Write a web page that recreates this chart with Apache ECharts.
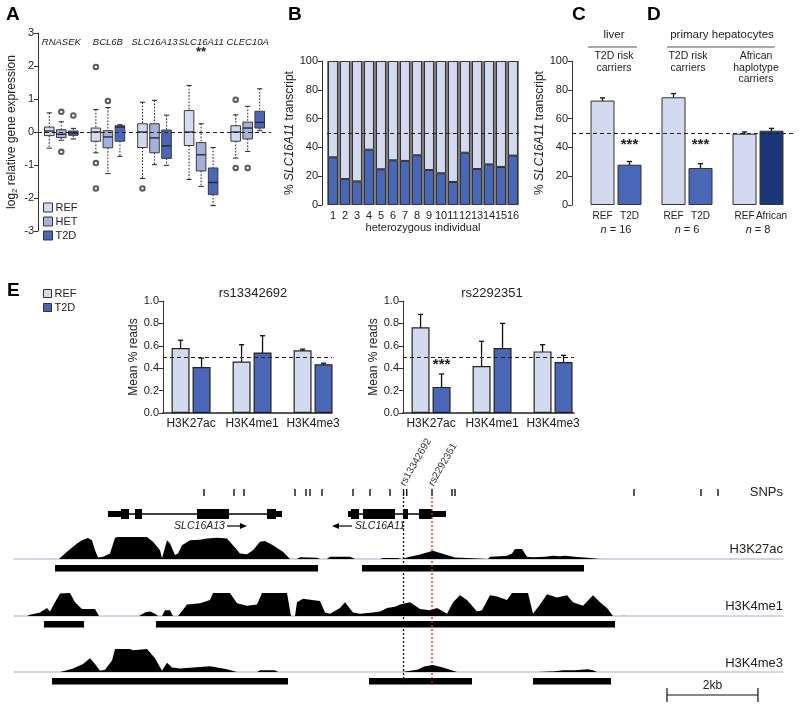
<!DOCTYPE html>
<html><head><meta charset="utf-8">
<script src="https://cdn.jsdelivr.net/npm/echarts@6/dist/echarts.min.js"></script>
<style>html,body{margin:0;padding:0;background:#fff}#c{width:800px;height:711px}</style>
</head><body><div id="c"></div>
<script>
// ================= DATA =================
// Panel A: boxplots [min, q1, median, q3, max] per gene
const genesA = ['RNASEK','BCL6B','SLC16A13','SLC16A11','CLEC10A'];
const boxREF = [[-0.49,-0.11,0.03,0.15,0.58],[-0.63,-0.28,0.0,0.12,0.68],[-1.41,-0.47,0.0,0.25,0.9],[-1.44,-0.41,0.0,0.65,1.41],[-0.79,-0.28,0.0,0.19,0.52]];
const boxHET = [[-0.25,-0.17,-0.07,0.07,0.31],[-1.26,-0.48,-0.15,0.04,0.74],[-0.99,-0.63,-0.18,0.25,0.96],[-1.65,-1.18,-0.69,-0.32,0.25],[-0.59,-0.21,0.12,0.3,0.78]];
const boxT2D = [[-0.21,-0.1,-0.03,0.03,0.11],[-0.74,-0.28,0.15,0.19,0.22],[-1.01,-0.8,-0.42,0.06,0.51],[-2.23,-1.9,-1.53,-1.09,-0.47],[0.04,0.12,0.29,0.63,1.31]];
// outliers [geneIndex, value]
const outREF = [[1,1.97],[1,-0.94],[1,-1.71],[2,-1.71],[4,0.98],[4,-1.09]];
const outHET = [[0,0.61],[0,-0.6],[1,0.94],[4,-1.09]];
const outT2D = [[0,0.5]];
const sigA = ['', '', '', '**', ''];

// Panel B: % transcript per heterozygous individual
const bIndividuals = ['1','2','3','4','5','6','7','8','9','10','11','12','13','14','15','16'];
const bT2D = [33.1,18,16.4,38.4,24.8,31,30.6,34.5,24.3,22,16,36.3,25,28.2,26.4,34.3];
const bREF = [66.9,82,83.6,61.6,75.2,69,69.4,65.5,75.7,78,84,63.7,75,71.8,73.6,65.7];

// Panels C/D
const cdN = [16, 6, 8];
const cdRefMean = [72.5, 74.8, 49.5];
const cdRefErr = [1.9, 2.6, 1.2];
const cdAltNames = ['T2D', 'T2D', 'African'];
const cdAltMean = [28, 25.7, 51.6];
const cdAltErr = [2.2, 3.0, 1.6];
const cdSig = ['***', '***', ''];

// Panel E bar charts
const eCats = ['H3K27ac','H3K4me1','H3K4me3'];
const e1RefMean = [0.58, 0.46, 0.56], e1RefErr = [0.07, 0.15, 0.01];
const e1T2dMean = [0.41, 0.54, 0.435], e1T2dErr = [0.08, 0.15, 0.01];
const e2RefMean = [0.765, 0.42, 0.55], e2RefErr = [0.115, 0.22, 0.06];
const e2T2dMean = [0.233, 0.58, 0.455], e2T2dErr = [0.115, 0.22, 0.06];
const e2Sig = ['***', '', ''];

// Panel E genome browser (positions in bp)
const regionLength = 16918;
const snpPos = [4180,4840,5060,6182,6424,6512,6776,7458,7832,8272,8570,8640,9196,9636,9702,13640,15114,15488];
const rsLabels = [['rs13342692', 8570, 'black'], ['rs2292351', 9196, 'red']];
const slc16a13Utrs = [[2068,2354],[5764,5896]];
const slc16a13Exons = [[2354,2530],[2662,2816],[4026,4730],[5566,5764]];
const slc16a11Utrs = [[7348,7414],[9196,9504]];
const slc16a11Exons = [[7414,7590],[7678,8382],[8558,8668],[8910,9196]];
const geneLabels = [['SLC16A13', 4640, '+'], ['SLC16A11', 7502, '-']];
const peaksK27ac = [[902,6688],[7656,12540]];
const peaksK4me1 = [[660,1540],[3124,13222]];
const peaksK4me3 = [[836,6028],[7810,10076],[11418,13134]];
const scaleBarStart = 14366, scaleBarLength = 2000, scaleBarLabel = '2kb';
const sigK27ac = [[990,0],[1166,0.33],[1386,0.7],[1496,0.85],[1628,0.95],[1716,0.85],[1782,0.4],[1848,0.07],[1958,0.1],[2112,0.25],[2222,0.97],[2288,1],[2926,1],[3058,0.78],[3212,0.4],[3256,0.03],[3366,0.85],[3432,0.7],[3542,0.18],[3608,0.25],[3696,0.63],[3872,0.85],[4092,0.88],[4246,0.93],[4466,0.97],[4686,0.93],[4818,0.63],[4972,0.25],[5126,0.22],[5258,0.4],[5412,0.78],[5522,0.82],[5698,0.63],[5918,0.33],[6072,0],
[6226,0],[6292,0.08],[6666,0.06],[6732,0],[6886,0],[6952,0.1],[7392,0.1],[7502,0],[8052,0],[8118,0.05],[8448,0.05],[8514,0],[8602,0.05],[8712,0.1],[8932,0.2],[9218,0.37],[9482,0.2],[9702,0.07],[10098,0.03],[10142,0],[10428,0],[10472,0.1],[10692,0.12],[10846,0.15],[10956,0.25],[11022,0.45],[11066,0.5],[11176,0.45],[11286,0.1],[11418,0.08],[11682,0.1],[11858,0.15],[12012,0.12],[12122,0.15],[12342,0.1],[12672,0.05],[12892,0]];
const sigK4me1 = [[286,0],[352,0.05],[572,0.15],[726,0.35],[792,0.2],[902,0.6],[1012,0.98],[1056,1],[1232,1],[1342,0.6],[1496,0.3],[1628,0.3],[1782,0.3],[1870,0],
[2750,0],[2882,0.15],[2992,0.2],[3102,0.1],[3168,0],[3256,0],[3322,0.25],[3432,0.25],[3498,0],
[3608,0],[3652,0.05],[3806,0.5],[4092,0.55],[4312,0.7],[4378,1],[4752,1],[4906,0.55],[5126,0.45],[5346,0.5],[5456,1],[6006,1],[6094,0],
[6182,0],[6226,0.6],[6358,0.75],[6556,0.7],[6732,0.65],[6842,0.15],[6952,0.1],[7172,0.35],[7282,0.6],[7458,0.15],[7612,0.1],[7898,0.15],[8052,0.2],[8206,0.35],[8382,0.4],[8492,0.5],[8712,0.6],[8932,0.3],[9152,0.25],[9306,0.35],[9526,0.1],[9658,0.6],[9812,0.9],[9966,0.7],[10186,0.2],[10296,0.25],[10472,0.9],[10626,0.85],[10846,0.7],[10956,1],[11308,1],[11418,0.1],[11572,0.5],[11726,0.95],[11946,0.8],[12166,0.9],[12298,0.6],[12518,0.45],[12738,0.9],[12892,0.6],[13046,0.35],[13178,0],
[13376,0],[13398,0.03],[13486,0.03],[13508,0]];
const sigK4me3 = [[1012,0],[1122,0.05],[1298,0.15],[1518,0.35],[1672,0.6],[1782,0.35],[1892,0.05],[2002,0.1],[2156,0.5],[2222,1],[2552,1],[2618,0.95],[2926,1],[3102,0.6],[3256,0.05],[3366,0.4],[3476,0.2],[3652,0.15],[3938,0.2],[4312,0.25],[4686,0.12],[4906,0],
[5346,0],[5412,0.08],[5742,0.08],[5808,0],[8184,0],[8228,0.05],[8272,0],
[8536,0],[8558,0.03],[8866,0.1],[9042,0.25],[9218,0.3],[9438,0.2],[9746,0],
[11528,0],[11572,0.03],[11902,0.03],[12078,0.08],[12342,0.08],[12628,0.12],[12738,0.08],[12826,0]];

// ================= STYLE =================
const FONT = "'Liberation Sans', Arial, Helvetica, sans-serif";
const C_REF = '#d3d9ee', C_HET = '#a3b1dc', C_T2D = '#4a66b6', C_AFR = '#1d3675', C_EDGE = '#333', TXT = '#222';
const chart = echarts.init(document.getElementById('c'));

function gridBox(left, top, width, height, extra) {
  return Object.assign({left, top, width, height, containLabel:false, outerBoundsMode:'none'}, extra || {});
}
function valY(min, max, interval, name, nameGap, fmt, extra) {
  return Object.assign({
    type:'value', min, max, interval,
    axisLine:{show:true, onZero:false, lineStyle:{color:C_EDGE, width:1}},
    axisTick:{show:true, length:4, lineStyle:{color:C_EDGE}},
    axisLabel:{fontSize:11, color:TXT, fontFamily:FONT, margin:4, formatter:fmt},
    splitLine:{show:false},
    name, nameLocation:'middle', nameGap, nameRotate:90,
    nameTextStyle:{fontSize:12, color:TXT, fontFamily:FONT,
      rich:{i:{fontStyle:'italic', fontSize:12, color:TXT, fontFamily:FONT}, n:{fontSize:12, color:TXT, fontFamily:FONT}, s:{fontSize:8, color:TXT, fontFamily:FONT, verticalAlign:'bottom', padding:[6,0,0,0]}}}
  }, extra || {});
}
const hiddenX = (min, max) => ({type:'value', min, max, show:false});
const hiddenY = (min, max, inv) => ({type:'value', min, max, show:false, inverse:!!inv});

// ---- Panel A boxes ----
const offA = [-0.258, 0, 0.258];
function boxRender(k, color) {
  return function (params, api) {
    const gi = api.value(0);
    const mn = api.value(1), q1 = api.value(2), md = api.value(3), q3 = api.value(4), mx = api.value(5);
    const unit = api.size([1, 0])[0];
    const x = api.coord([gi + offA[k], 0])[0];
    const w = unit * 0.205, cw = 2.6;
    const y = v => api.coord([gi, v])[1];
    const dash = {stroke:'#333', lineWidth:1.1, lineDash:[1.6,1.6]};
    const solid = {stroke:'#333', lineWidth:1.1};
    return {type:'group', children:[
      {type:'line', shape:{x1:x, y1:y(mx), x2:x, y2:y(q3)}, style:dash},
      {type:'line', shape:{x1:x, y1:y(q1), x2:x, y2:y(mn)}, style:dash},
      {type:'line', shape:{x1:x-cw, y1:y(mx), x2:x+cw, y2:y(mx)}, style:solid},
      {type:'line', shape:{x1:x-cw, y1:y(mn), x2:x+cw, y2:y(mn)}, style:solid},
      {type:'rect', shape:{x:x-w/2, y:y(q3), width:w, height:y(q1)-y(q3)}, style:{fill:color, stroke:'#3a3a3a', lineWidth:1}},
      {type:'line', shape:{x1:x-w/2, y1:y(md), x2:x+w/2, y2:y(md)}, style:{stroke:'#222', lineWidth:1.3}}
    ]};
  };
}
const boxSets = [boxREF, boxHET, boxT2D], outSets = [outREF, outHET, outT2D];
const boxColors = [C_REF, C_HET, C_T2D], boxNames = ['REF','HET','T2D'];
const series = [];
boxSets.forEach((set, k) => {
  const s = {
    type:'custom', name:boxNames[k], xAxisIndex:0, yAxisIndex:0, silent:true,
    itemStyle:{color:boxColors[k], borderColor:'#333', borderWidth:1},
    renderItem: boxRender(k, boxColors[k]),
    encode:{x:0, y:[1,2,3,4,5]},
    data: set.map((b, i) => [i].concat(b))
  };
  if (k === 0) s.markLine = {silent:true, symbol:'none', label:{show:false},
    lineStyle:{type:[4,3], color:'#222', width:1}, data:[{yAxis:0}]};
  series.push(s);
  series.push({type:'scatter', xAxisIndex:0, yAxisIndex:0, silent:true, symbol:'emptyCircle', symbolSize:4.5,
    itemStyle:{color:'#333', borderWidth:1.2},
    data: outSets[k].map(([g, v]) => [g + offA[k], v])});
});
series.push({type:'custom', xAxisIndex:0, yAxisIndex:0, silent:true, data: genesA.map((g, i) => [i]),
  renderItem: (p, api) => {
    const c = api.coord([api.value(0), 2.72]);
    const c2 = api.coord([api.value(0), 2.4]);
    const ch = [{type:'text', x:c[0], y:c[1], style:{text:genesA[p.dataIndex], fontSize:9.5, fontStyle:'italic', fontFamily:FONT, fill:TXT, align:'center', verticalAlign:'middle'}}];
    if (sigA[p.dataIndex]) ch.push({type:'text', x:c2[0], y:c2[1], style:{text:sigA[p.dataIndex], fontSize:13, fontWeight:'bold', fontFamily:FONT, fill:TXT, align:'center', verticalAlign:'middle'}});
    return {type:'group', children:ch};
  }});

// ---- Panel B ----
series.push({type:'bar', name:'T2D', xAxisIndex:1, yAxisIndex:1, stack:'b', data:bT2D, barCategoryGap:'17%',
  itemStyle:{color:C_T2D, borderColor:'#333', borderWidth:1}, silent:true});
series.push({type:'bar', name:'REF', xAxisIndex:1, yAxisIndex:1, stack:'b', data:bREF, barCategoryGap:'17%',
  itemStyle:{color:C_REF, borderColor:'#333', borderWidth:1}, silent:true,
  markLine:{silent:true, symbol:'none', label:{show:false}, lineStyle:{type:[4,3], color:'#222', width:1}, data:[{yAxis:50}]}});

// error bar renderer shared
function errRender(p, api) {
  const x = api.value(0), m = api.value(1), e = api.value(2);
  const t = api.coord([x, m + e]), b = api.coord([x, m - e]);
  const hw = 2.6, st = {stroke:'#111', lineWidth:1.3};
  return {type:'group', children:[
    {type:'line', shape:{x1:t[0], y1:t[1], x2:b[0], y2:b[1]}, style:st},
    {type:'line', shape:{x1:t[0]-hw, y1:t[1], x2:t[0]+hw, y2:t[1]}, style:st},
    {type:'line', shape:{x1:b[0]-hw, y1:b[1], x2:b[0]+hw, y2:b[1]}, style:st}
  ]};
}

// ---- Panels C/D ----
const cdOff = 0.19;
series.push({type:'bar', name:'REF', xAxisIndex:2, yAxisIndex:2, barWidth:24, barGap:'-100%', silent:true,
  itemStyle:{color:C_REF, borderColor:'#333', borderWidth:1},
  label:{show:true, position:'bottom', distance:6, formatter:'REF', fontSize:10, color:TXT, fontFamily:FONT},
  data: cdRefMean.map((v, i) => [i - cdOff, v]),
  markLine:{silent:true, symbol:'none', label:{show:false}, lineStyle:{type:[4,3], color:'#222', width:1}, data:[{yAxis:50}]}});
series.push({type:'bar', name:'T2D', xAxisIndex:2, yAxisIndex:2, barWidth:24, barGap:'-100%', silent:true,
  itemStyle:{color:C_T2D, borderColor:'#333', borderWidth:1},
  label:{show:true, position:'bottom', distance:6, fontSize:10, color:TXT, fontFamily:FONT},
  data: cdAltMean.map((v, i) => ({value:[i + cdOff, v], itemStyle:{color: cdAltNames[i] === 'African' ? C_AFR : C_T2D},
    label:{formatter: cdAltNames[i]}}))});
series.push({type:'custom', xAxisIndex:2, yAxisIndex:2, silent:true, renderItem:errRender,
  data: cdRefMean.map((v, i) => [i - cdOff, v, cdRefErr[i]]).concat(cdAltMean.map((v, i) => [i + cdOff, v, cdAltErr[i]]))});
series.push({type:'custom', xAxisIndex:2, yAxisIndex:2, silent:true,
  data: cdAltMean.map((v, i) => [i + cdOff, v + cdAltErr[i]]),
  renderItem: (p, api) => {
    const t = cdSig[p.dataIndex]; if (!t) return null;
    const c = api.coord([api.value(0), 0]);
    const yy = api.coord([0, 42])[1];
    return {type:'text', x:c[0], y:yy, style:{text:t, fontSize:15, fontWeight:'bold', fontFamily:FONT, fill:TXT, align:'center', verticalAlign:'middle'}};
  }});

// ---- Panel E bars ----
const eOff = 0.172;
function eSeries(ax, refM, refE, t2dM, t2dE, sig) {
  series.push({type:'bar', name:'REF', xAxisIndex:ax, yAxisIndex:ax, barWidth:18, barGap:'-100%', silent:true,
    itemStyle:{color:C_REF, borderColor:'#222', borderWidth:1.2},
    data: refM.map((v, i) => [i - eOff, v]),
    markLine:{silent:true, symbol:'none', label:{show:false}, lineStyle:{type:[4,3], color:'#222', width:1}, data:[{yAxis:0.5}]}});
  series.push({type:'bar', name:'T2D', xAxisIndex:ax, yAxisIndex:ax, barWidth:18, barGap:'-100%', silent:true,
    itemStyle:{color:C_T2D, borderColor:'#222', borderWidth:1.2},
    data: t2dM.map((v, i) => ({value:[i + eOff, v],
      label: sig && sig[i] ? {show:true, position:'top', distance:15, formatter:sig[i], fontSize:15, fontWeight:'bold', color:TXT, fontFamily:FONT} : {show:false}}))});
  series.push({type:'custom', xAxisIndex:ax, yAxisIndex:ax, silent:true, renderItem:errRender,
    data: refM.map((v, i) => [i - eOff, v, refE[i]]).concat(t2dM.map((v, i) => [i + eOff, v, t2dE[i]]))});
}
eSeries(3, e1RefMean, e1RefErr, e1T2dMean, e1T2dErr, null);
eSeries(4, e2RefMean, e2RefErr, e2T2dMean, e2T2dErr, e2Sig);

// ---- Genome browser annotations (grid 5, y axis = pixel rows from GT) ----
const GT = 440;
function gx(api, bp) { return api.coord([bp, 0])[0]; }
function gy(api, py) { return api.coord([0, py - GT])[1]; }
series.push({type:'custom', xAxisIndex:5, yAxisIndex:5, silent:true, data: snpPos.map(p => [p]),
  renderItem: (p, api) => { const x = gx(api, api.value(0));
    return {type:'line', shape:{x1:x, y1:gy(api, 489), x2:x, y2:gy(api, 496)}, style:{stroke:'#111', lineWidth:1.4}}; }});
const geneFeatures = [];
[[slc16a13Utrs, slc16a13Exons], [slc16a11Utrs, slc16a11Exons]].forEach(([u, e]) => {
  const all = u.concat(e);
  geneFeatures.push([Math.min(...all.map(a => a[0])), Math.max(...all.map(a => a[1])), 0]);
  u.forEach(a => geneFeatures.push([a[0], a[1], 1]));
  e.forEach(a => geneFeatures.push([a[0], a[1], 2]));
});
series.push({type:'custom', xAxisIndex:5, yAxisIndex:5, silent:true, data: geneFeatures,
  renderItem: (p, api) => {
    const x1 = gx(api, api.value(0)), x2 = gx(api, api.value(1)), k = api.value(2);
    const h = [1.4, 6, 10][k], yc = gy(api, 514);
    return {type:'rect', shape:{x:x1, y:yc - h/2, width:x2 - x1, height:h}, style:{fill:'#000'}};
  }});
series.push({type:'custom', xAxisIndex:5, yAxisIndex:5, silent:true, data: geneLabels.map(g => [g[1]]),
  renderItem: (p, api) => {
    const [name, , strand] = geneLabels[p.dataIndex];
    const x = gx(api, api.value(0)), y = gy(api, 526);
    const ts = {text:name, fontSize:10.5, fontStyle:'italic', fontFamily:FONT, fill:TXT, verticalAlign:'middle'};
    const ch = [];
    if (strand === '+') {
      ch.push({type:'text', x:x, y:y, style:Object.assign({align:'right'}, ts)});
      ch.push({type:'line', shape:{x1:x+2, y1:y, x2:x+20, y2:y}, style:{stroke:'#000', lineWidth:1.2}});
      ch.push({type:'polygon', shape:{points:[[x+22,y],[x+15,y-3],[x+15,y+3]]}, style:{fill:'#000'}});
    } else {
      ch.push({type:'text', x:x, y:y, style:Object.assign({align:'left'}, ts)});
      ch.push({type:'line', shape:{x1:x-3, y1:y, x2:x-21, y2:y}, style:{stroke:'#000', lineWidth:1.2}});
      ch.push({type:'polygon', shape:{points:[[x-23,y],[x-16,y-3],[x-16,y+3]]}, style:{fill:'#000'}});
    }
    return {type:'group', children:ch};
  }});
const peakRows = [[peaksK27ac, 565], [peaksK4me1, 621], [peaksK4me3, 678]];
const peakData = [];
peakRows.forEach(([arr], r) => arr.forEach(a => peakData.push([a[0], a[1], r])));
series.push({type:'custom', xAxisIndex:5, yAxisIndex:5, silent:true, data: peakData,
  renderItem: (p, api) => {
    const x1 = gx(api, api.value(0)), x2 = gx(api, api.value(1)), top = gy(api, peakRows[api.value(2)][1]);
    return {type:'rect', shape:{x:x1, y:top, width:x2 - x1, height:6.5}, style:{fill:'#000'}};
  }});
series.push({type:'custom', xAxisIndex:5, yAxisIndex:5, silent:true, data: rsLabels.map(r => [r[1]]),
  renderItem: (p, api) => {
    const [name, , col] = rsLabels[p.dataIndex];
    const x = gx(api, api.value(0));
    const stroke = col === 'red' ? '#e0251b' : '#111';
    return {type:'group', children:[
      {type:'line', shape:{x1:x, y1:gy(api, 497), x2:x, y2:gy(api, 685)}, style:{stroke, lineWidth:1.3, lineDash:[2,2]}},
      {type:'text', x:x - 1, y:gy(api, 485), rotation:Math.PI / 3,
        style:{text:name, fontSize:10, fontFamily:FONT, fill:'#333', align:'left', verticalAlign:'middle'}}
    ]};
  }});
series.push({type:'custom', xAxisIndex:5, yAxisIndex:5, silent:true, data: [[scaleBarStart, scaleBarStart + scaleBarLength]],
  renderItem: (p, api) => {
    const x1 = gx(api, api.value(0)), x2 = gx(api, api.value(1)), y = gy(api, 695);
    const st = {stroke:'#111', lineWidth:1.2};
    return {type:'group', children:[
      {type:'line', shape:{x1, y1:y, x2, y2:y}, style:st},
      {type:'line', shape:{x1, y1:y-7, x2:x1, y2:y+7}, style:st},
      {type:'line', shape:{x1:x2, y1:y-7, x2, y2:y+7}, style:st},
      {type:'text', x:(x1 + x2) / 2, y:gy(api, 686), style:{text:scaleBarLabel, fontSize:12, fontFamily:FONT, fill:TXT, align:'center', verticalAlign:'middle'}}
    ]};
  }});
[[sigK27ac, 6], [sigK4me1, 7], [sigK4me3, 8]].forEach(([d, ax]) => {
  series.push({type:'line', xAxisIndex:ax, yAxisIndex:ax, data:d, symbol:'none', silent:true,
    lineStyle:{width:0, color:'#000'}, areaStyle:{color:'#000', opacity:1}, itemStyle:{color:'#000'}});
});

// ================= AXES =================
const GL = 14, GR = 17;
const grids = [
  gridBox(38, 33, 233, 198),
  gridBox(327, 61, 192, 144, {show:true, backgroundColor:'#7d7d7d', borderWidth:0}),
  gridBox(572, 61, 221, 144),
  gridBox(163, 301, 169, 112),
  gridBox(403, 301, 171, 112),
  gridBox(GL, GT, 800 - GL - GR, 265),
  gridBox(GL, 537, 800 - GL - GR, 22),
  gridBox(GL, 593, 800 - GL - GR, 23),
  gridBox(GL, 649, 800 - GL - GR, 23)
];
const eX = (max) => ({type:'value', min:-0.46, max,
  axisLine:{show:true, onZero:false, lineStyle:{color:'#222', width:1.5}}, axisTick:{show:false}, splitLine:{show:false},
  axisLabel:{customValues:[0,1,2], formatter:v => eCats[Math.round(v)], fontSize:12, color:TXT, fontFamily:FONT, margin:5}});
const trackX = () => ({type:'value', min:0, max:regionLength, axisLine:{show:true, onZero:false, lineStyle:{color:'#c7c8db', width:1.5}},
  axisTick:{show:false}, axisLabel:{show:false}, splitLine:{show:false}});
const xAxes = [
  hiddenX(-0.5, 4.5),
  {type:'category', data:bIndividuals, axisLine:{show:false}, axisTick:{show:false},
    axisLabel:{fontSize:11, color:TXT, fontFamily:FONT, margin:5, interval:0},
    name:'heterozygous individual', nameLocation:'middle', nameGap:17, nameTextStyle:{fontSize:11, color:TXT, fontFamily:FONT}},
  {type:'value', min:-0.62, max:-0.62 + 221/71, axisLine:{show:false}, axisTick:{show:false}, splitLine:{show:false},
    axisLabel:{customValues:[0,1,2], formatter:v => '{i|n} = ' + cdN[Math.round(v)], margin:19, fontSize:11, color:TXT, fontFamily:FONT,
      rich:{i:{fontStyle:'italic', fontSize:11, color:TXT, fontFamily:FONT}}}},
  eX(-0.46 + 169/61),
  eX(-0.46 + 171/61),
  hiddenX(0, regionLength),
  trackX(), trackX(), trackX()
];
const pctName = '{n|% }{i|SLC16A11}{n| transcript}';
const yAxes = [
  valY(-3, 3, 1, '{n|log}{s|2}{n| relative gene expression}', 19),
  valY(0, 100, 20, pctName, 21, null, {offset:5}),
  valY(0, 100, 20, pctName, 14),
  valY(0, 1, 0.2, 'Mean % reads', 18, v => v.toFixed(1)),
  valY(0, 1, 0.2, 'Mean % reads', 18, v => v.toFixed(1)),
  hiddenY(0, 265, true),
  hiddenY(0, 1), hiddenY(0, 1), hiddenY(0, 1)
];
xAxes.forEach((a, i) => a.gridIndex = i);
yAxes.forEach((a, i) => a.gridIndex = i);

// ================= GRAPHIC TEXT =================
const T = (text, x, y, o) => ({type:'text', x, y, silent:true, style:Object.assign({text, fontFamily:FONT, fill:TXT, fontSize:11, align:'center', verticalAlign:'middle'}, o || {})});
const L = (x1, y1, x2) => ({type:'line', silent:true, shape:{x1, y1, x2, y2:y1}, style:{stroke:'#555', lineWidth:1}});
const letter = (t, x, y) => T(t, x, y, {fontSize:19, fontWeight:'bold', fill:'#000', align:'left', verticalAlign:'top'});
const graphic = [
  letter('A', 6, 5), letter('B', 288, 5), letter('C', 572, 5), letter('D', 647, 5), letter('E', 7, 281),
  T('liver', 614, 35, {fontSize:11.5}), L(588, 47, 637),
  T('T2D risk\ncarriers', 614, 62, {fontSize:10.5, lineHeight:11.5}),
  T('primary hepatocytes', 722, 35, {fontSize:11.5}), L(667, 47, 775),
  T('T2D risk\ncarriers', 688, 62, {fontSize:10.5, lineHeight:11.5}),
  T('African\nhaplotype\ncarriers', 756, 68, {fontSize:10.5, lineHeight:11.5}),
  T('rs13342692', 253, 293, {fontSize:13}),
  T('rs2292351', 492, 293, {fontSize:13}),
  T('SNPs', 783, 492, {fontSize:13, align:'right'}),
  T('H3K27ac', 783, 549, {fontSize:13, align:'right'}),
  T('H3K4me1', 783, 606, {fontSize:13, align:'right'}),
  T('H3K4me3', 783, 663, {fontSize:13, align:'right'})
];

const legendBase = {orient:'vertical', icon:'rect', selectedMode:false, itemGap:3,
  textStyle:{fontSize:11, color:TXT, fontFamily:FONT, padding:[0,0,0,-2]}, itemStyle:{borderColor:'#333', borderWidth:1}};

chart.setOption({
  animation:false,
  backgroundColor:'#fff',
  textStyle:{fontFamily:FONT},
  legend:[
    Object.assign({left:38, top:197, itemWidth:9, itemHeight:9, data:['REF','HET','T2D']}, legendBase),
    Object.assign({left:38, top:283, itemWidth:8, itemHeight:8, data:['REF','T2D']}, legendBase)
  ],
  grid: grids, xAxis: xAxes, yAxis: yAxes, series, graphic
});
</script></body></html>
